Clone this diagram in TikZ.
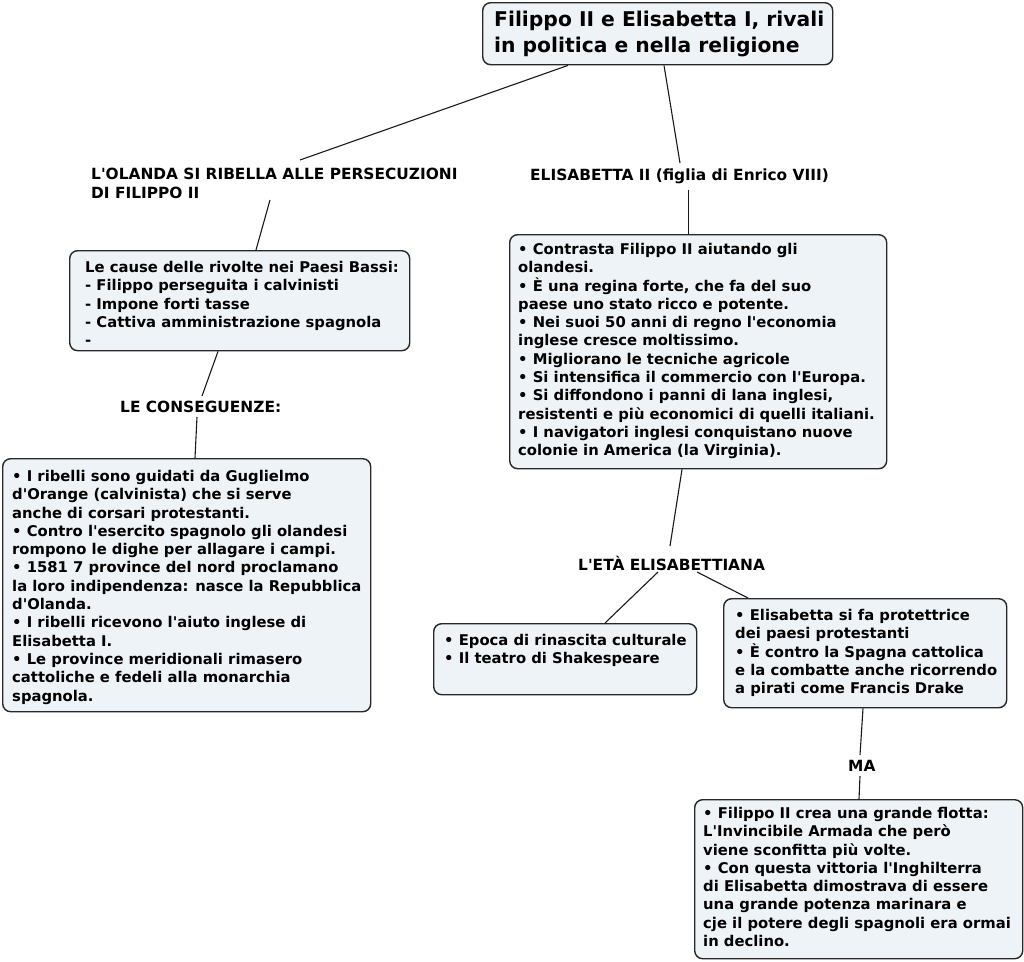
\documentclass[tikz,border=0pt]{standalone}
\usepackage{fontspec}
\setmainfont{DejaVu Sans}
\newcommand\ap{\textquotesingle}
\definecolor{boxfill}{RGB}{238,243,247}
\definecolor{boxline}{RGB}{40,40,40}
\begin{document}
\begin{tikzpicture}[x=1pt,y=-1pt,
  box/.style={draw=boxline, line width=1.4pt, rounded corners=8pt, fill=boxfill,
    anchor=north west, inner sep=0pt},
  txt/.style={anchor=north west, inner sep=0pt, align=left,
    font=\fontsize{14.8}{18.3}\selectfont\bfseries},
  lbl/.style={anchor=north west, inner sep=0pt, align=left,
    font=\fontsize{15.4}{18.8}\selectfont\bfseries},
  ttl/.style={anchor=north west, inner sep=0pt, align=left,
    font=\fontsize{20.3}{26}\selectfont\bfseries},
  conn/.style={draw=black!90, line width=1.1pt}]
\useasboundingbox (0,0) rectangle (1024,961);
\fill[white] (0,0) rectangle (1024,961);

% boxes
\node[box, minimum width=350, minimum height=62] (title) at (482,2) {};
\node[box, minimum width=340, minimum height=100] (cause) at (69,250) {};
\node[box, minimum width=368, minimum height=253] (cons) at (2,458) {};
\node[box, minimum width=377, minimum height=234] (elisbox) at (509,234) {};
\node[box, minimum width=263, minimum height=71] (epoca) at (433,623) {};
\node[box, minimum width=283, minimum height=109] (prot) at (723,598) {};
\node[box, minimum width=328, minimum height=159] (armada) at (694,799) {};

% box texts
\node[ttl] (titletxt) at (494,11) {Filippo II e Elisabetta I, rivali\\in politica e nella religione};
\node[txt] (causetxt) at (85,261) {Le cause delle rivolte nei Paesi Bassi:\\- Filippo perseguita i calvinisti\\- Impone forti tasse\\- Cattiva amministrazione spagnola\\-};
\node[txt] (constxt) at (12,470) {• I ribelli sono guidati da Guglielmo\\d\ap Orange (calvinista) che si serve\\anche di corsari protestanti.\\• Contro l\ap esercito spagnolo gli olandesi\\rompono le dighe per allagare i campi.\\• 1581 7 province del nord proclamano\\la loro indipendenza: nasce la Repubblica\\d\ap Olanda.\\• I ribelli ricevono l\ap aiuto inglese di\\Elisabetta I.\\• Le province meridionali rimasero\\cattoliche e fedeli alla monarchia\\spagnola.};
\node[txt] (elistxt) at (518,243) {• Contrasta Filippo II aiutando gli\\olandesi.\\• È una regina forte, che fa del suo\\paese uno stato ricco e potente.\\• Nei suoi 50 anni di regno l\ap economia\\inglese cresce moltissimo.\\• Migliorano le tecniche agricole\\• Si intensifica il commercio con l\ap Europa.\\• Si diffondono i panni di lana inglesi,\\resistenti e più economici di quelli italiani.\\• I navigatori inglesi conquistano nuove\\colonie in America (la Virginia).};
\node[txt] (epocatxt) at (444,634) {• Epoca di rinascita culturale\\• Il teatro di Shakespeare};
\node[txt] (prottxt) at (735,609) {• Elisabetta si fa protettrice\\dei paesi protestanti\\• È contro la Spagna cattolica\\e la combatte anche ricorrendo\\a pirati come Francis Drake};
\node[txt] (armadatxt) at (703,807) {• Filippo II crea una grande flotta:\\L\ap Invincibile Armada che però\\viene sconfitta più volte.\\• Con questa vittoria l\ap Inghilterra\\di Elisabetta dimostrava di essere\\una grande potenza marinara e\\cje il potere degli spagnoli era ormai\\in declino.};

% labels
\node[lbl] (olanda) at (91,168) {L\ap OLANDA SI RIBELLA ALLE PERSECUZIONI\\DI FILIPPO II};
\node[lbl] (elis) at (530,169) {ELISABETTA II (figlia di Enrico VIII)};
\node[lbl] (conseg) at (120,401) {LE CONSEGUENZE:};
\node[lbl] (eta) at (578,556) {L\ap ETÀ ELISABETTIANA};
\node[lbl] (ma) at (848,760) {MA};

% connectors
\draw[conn] ([xshift=86]title.south west) -- ([shift={(209,-8)}]olanda.north west);
\draw[conn] ([xshift=182]title.south west) -- ([shift={(150,-6)}]elis.north west);
\draw[conn] ([shift={(179,32)}]olanda.north west) -- ([xshift=187]cause.north west);
\draw[conn] ([shift={(158.5,21)}]elis.north west) -- ([xshift=179.5]elisbox.north west);
\draw[conn] ([xshift=149]cause.south west) -- ([shift={(82,-5)}]conseg.north west);
\draw[conn] ([shift={(77,16)}]conseg.north west) -- ([xshift=193]cons.north west);
\draw[conn] ([xshift=173]elisbox.south west) -- ([shift={(92,-10)}]eta.north west);
\draw[conn] ([shift={(80,16)}]eta.north west) -- ([xshift=172]epoca.north west);
\draw[conn] ([shift={(119,16)}]eta.north west) -- ([xshift=25]prot.north west);
\draw[conn] ([xshift=140]prot.south west) -- ([shift={(12,-5)}]ma.north west);
\draw[conn] ([shift={(12,16)}]ma.north west) -- ([xshift=165]armada.north west);
\end{tikzpicture}
\end{document}
